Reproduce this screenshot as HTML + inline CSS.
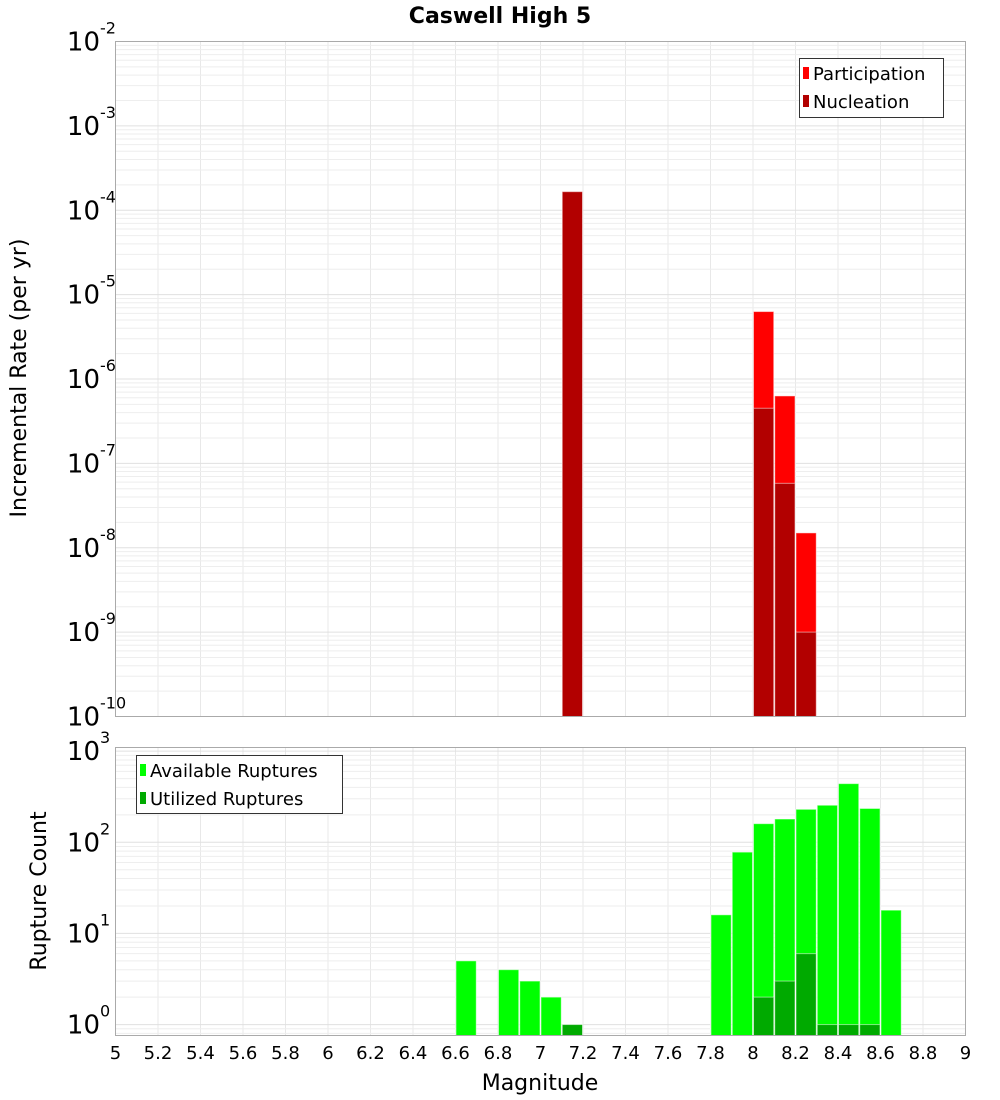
<!DOCTYPE html>
<html><head><meta charset="utf-8"><style>
body{margin:0;background:#fff;}
svg{display:block;font-family:"Liberation Sans","DejaVu Sans",sans-serif;}
</style></head><body>
<svg id="chart" width="1000" height="1100" viewBox="0 0 1000 1100" xmlns="http://www.w3.org/2000/svg">
<text x="500" y="23" text-anchor="middle" font-size="22" font-weight="bold" font-family="DejaVu Sans, sans-serif">Caswell High 5</text>
<g id="top"></g>
<g id="bot"></g>
<text transform="translate(26,378) rotate(-90)" text-anchor="middle" font-size="22" font-family="DejaVu Sans, sans-serif">Incremental Rate (per yr)</text>
<text transform="translate(46,891) rotate(-90)" text-anchor="middle" font-size="22" font-family="DejaVu Sans, sans-serif">Rupture Count</text>
<text x="540" y="1090" text-anchor="middle" font-size="22" font-family="DejaVu Sans, sans-serif">Magnitude</text>
<g>
<rect x="799.5" y="58.5" width="144" height="59" fill="#fff" stroke="#333"/>
<rect x="803" y="67" width="6" height="12" fill="#ff0000"/>
<text x="813" y="80" font-size="18" font-family="DejaVu Sans, sans-serif">Participation</text>
<rect x="803" y="95" width="6" height="12" fill="#b20000"/>
<text x="813" y="108" font-size="18" font-family="DejaVu Sans, sans-serif">Nucleation</text>
</g>
<g>
<rect x="136.5" y="755.5" width="206" height="58" fill="#fff" stroke="#333"/>
<rect x="140" y="764" width="6" height="12" fill="#00ff00"/>
<text x="150" y="777" font-size="18" font-family="DejaVu Sans, sans-serif">Available Ruptures</text>
<rect x="140" y="792" width="6" height="12" fill="#00aa00"/>
<text x="150" y="805" font-size="18" font-family="DejaVu Sans, sans-serif">Utilized Ruptures</text>
</g>
</svg>
<script>
const topMags=[7.1,8.0,8.1,8.2];
const participation=[1.66e-4,6.3e-6,6.3e-7,1.5e-8];
const nucleation=[1.66e-4,4.5e-7,5.8e-8,1.0e-9];
const botMags=[6.6,6.8,6.9,7.0,7.1,7.8,7.9,8.0,8.1,8.2,8.3,8.4,8.5,8.6];
const available=[5,4,3,2,1,16,78,160,180,230,255,440,235,18];
const utilized=[0,0,0,0,1,0,0,2,3,6,1,1,1,0];
const xTicks=[5,5.2,5.4,5.6,5.8,6,6.2,6.4,6.6,6.8,7,7.2,7.4,7.6,7.8,8,8.2,8.4,8.6,8.8,9];
const topExps=[-10,-9,-8,-7,-6,-5,-4,-3,-2];
const botExps=[0,1,2,3];
const binWidth=0.1;

const NS="http://www.w3.org/2000/svg";
const X0=115.5,X1=965.5;
const xs=m=>X0+(m-5)/4*(X1-X0);
const T0=41.5,T1=716.5;
const ty=v=>T1-(Math.log10(v)+10)/8*(T1-T0);
const B0=747.5,B1=1035.5;
const bLo=-0.12,bHi=3.04;
const by=v=>B1-(Math.log10(v)-bLo)/(bHi-bLo)*(B1-B0);
function mk(p,t,a){const e=document.createElementNS(NS,t);for(const k in a)e.setAttribute(k,a[k]);p.appendChild(e);return e;}
const topG=document.getElementById('top'),botG=document.getElementById('bot');

function panel(g,y0,y1,yfn,exps,lo,hi,name){
  const bg=mk(g,'rect',{x:X0,y:y0,width:X1-X0,height:y1-y0,fill:'#fff'});
  
  
  for(let m=5.2;m<9;m+=0.2){const x=xs(m);mk(g,'line',{x1:x,x2:x,y1:y0,y2:y1,stroke:'#e8e8e8','stroke-width':1});}
  for(let e=Math.floor(lo);e<=Math.ceil(hi);e++){for(let k=1;k<10;k++){const v=k*Math.pow(10,e);const l=Math.log10(v);if(l<lo||l>hi)continue;const y=yfn(v);mk(g,'line',{x1:X0,x2:X1,y1:y,y2:y,stroke:k==1?'#e0e0e0':'#eeeeee','stroke-width':1});}}
  exps.forEach(e=>{
    const y=yfn(Math.pow(10,e));
    const t=mk(g,'text',{x:100,y:y+9,'text-anchor':'end','font-size':26,'font-family':'DejaVu Sans, sans-serif'});
    t.textContent='10';
    
    
    const s=mk(g,'text',{x:100,y:y-8,'font-size':16,'font-family':'DejaVu Sans, sans-serif'});
    s.textContent=String(e);
    
    
  });
}
panel(topG,T0,T1,ty,topExps,-10,-2,'top');
panel(botG,B0,B1,by,botExps,bLo,bHi,'bottom');

function bar(g,m,v,yfn,y1,fill,name){
  const x=xs(m),w=xs(m+binWidth)-x,y=yfn(v);
  const r=mk(g,'rect',{x:x+0.5,y:y,width:w-1,height:y1-y,fill:fill,stroke:'#fff','stroke-opacity':0.5,'stroke-width':1});
  
  
}
topMags.forEach((m,i)=>{bar(topG,m,participation[i],ty,T1,'#ff0000','participation-bar');});
topMags.forEach((m,i)=>{bar(topG,m,nucleation[i],ty,T1,'#b20000','nucleation-bar');});
botMags.forEach((m,i)=>{if(available[i]>0)bar(botG,m,available[i],by,B1,'#00ff00','available-bar');});
botMags.forEach((m,i)=>{if(utilized[i]>0)bar(botG,m,utilized[i],by,B1,'#00aa00','utilized-bar');});

mk(topG,'rect',{x:X0,y:T0,width:X1-X0,height:T1-T0,fill:'none',stroke:'#aaa'});
mk(botG,'rect',{x:X0,y:B0,width:X1-X0,height:B1-B0,fill:'none',stroke:'#aaa'});
xTicks.forEach(m=>{
  const t=mk(botG,'text',{x:xs(m),y:1059,'text-anchor':'middle','font-size':18,'font-family':'DejaVu Sans, sans-serif'});
  t.textContent=String(m);
  
  
});
</script>
</body></html>
